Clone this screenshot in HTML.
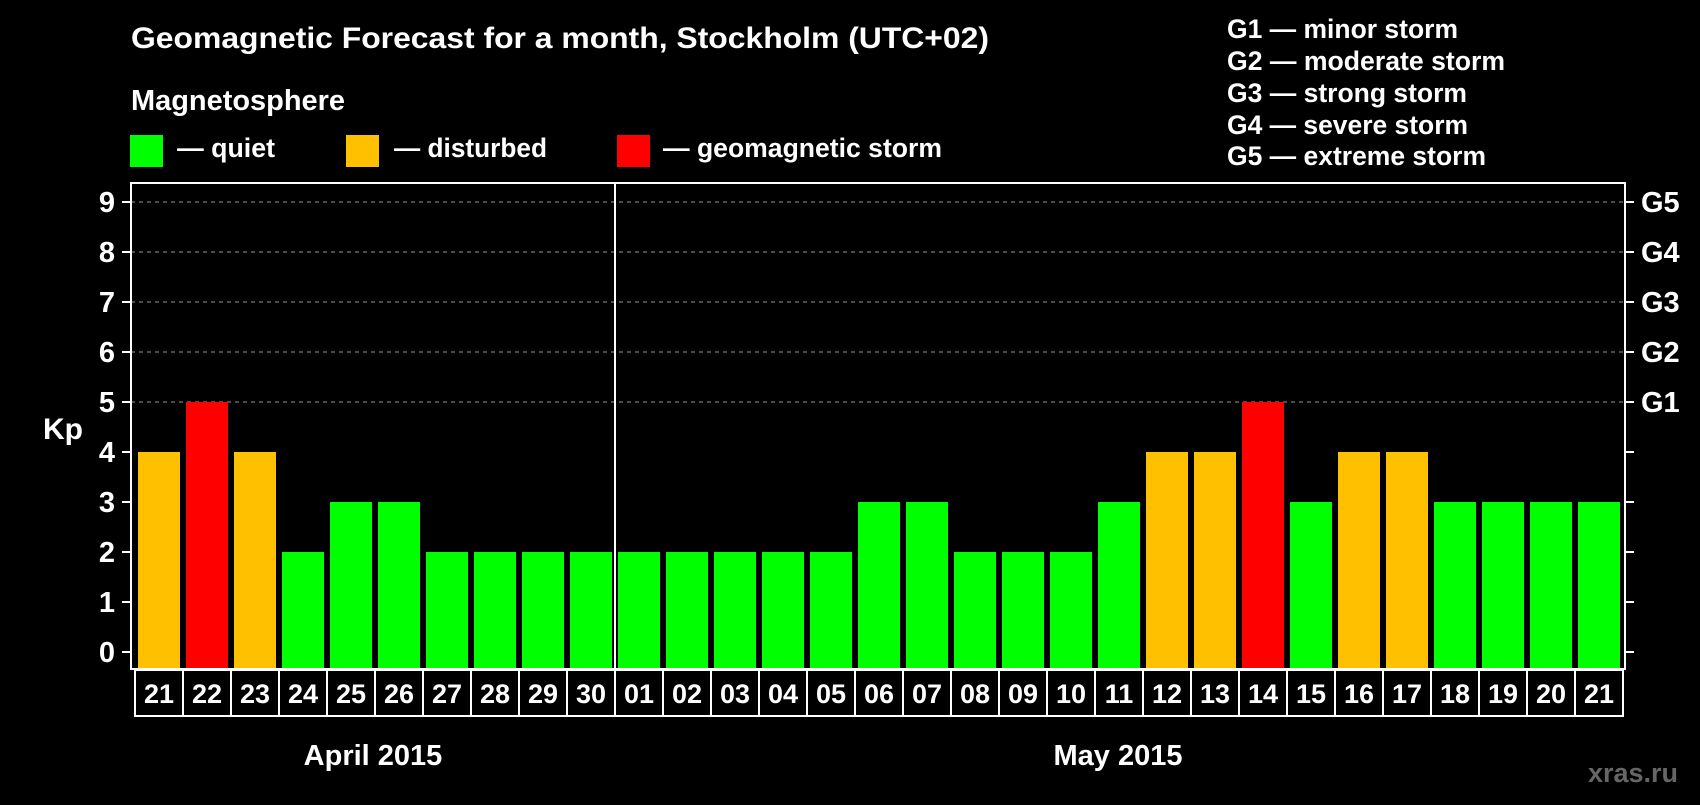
<!DOCTYPE html>
<html><head><meta charset="utf-8"><style>
body{margin:0;background:#000;width:1700px;height:800px;overflow:hidden}
svg text{font-family:"Liberation Sans",Arial,sans-serif;font-weight:bold;fill:#fff}
</style></head><body>
<svg id="chart" width="1700" height="800" xmlns="http://www.w3.org/2000/svg">
<text x="131" y="48" font-size="30" textLength="858" lengthAdjust="spacingAndGlyphs">Geomagnetic Forecast for a month, Stockholm (UTC+02)</text>
<text x="131" y="110" font-size="29" textLength="214" lengthAdjust="spacingAndGlyphs">Magnetosphere</text>
<rect x="130" y="135" width="33" height="32" fill="#00ff00"/>
<text x="177" y="157" font-size="27" textLength="98" lengthAdjust="spacingAndGlyphs">— quiet</text>
<rect x="346" y="135" width="33" height="32" fill="#ffc000"/>
<text x="394" y="157" font-size="27" textLength="153" lengthAdjust="spacingAndGlyphs">— disturbed</text>
<rect x="617" y="135" width="33" height="32" fill="#ff0000"/>
<text x="663" y="157" font-size="27" textLength="279" lengthAdjust="spacingAndGlyphs">— geomagnetic storm</text>
<g font-size="27">
<text x="1227" y="38" textLength="231" lengthAdjust="spacingAndGlyphs">G1 — minor storm</text>
<text x="1227" y="70" textLength="278" lengthAdjust="spacingAndGlyphs">G2 — moderate storm</text>
<text x="1227" y="102" textLength="240" lengthAdjust="spacingAndGlyphs">G3 — strong storm</text>
<text x="1227" y="134" textLength="241" lengthAdjust="spacingAndGlyphs">G4 — severe storm</text>
<text x="1227" y="165" textLength="259" lengthAdjust="spacingAndGlyphs">G5 — extreme storm</text>
</g>
<text x="63" y="439" font-size="30" text-anchor="middle">Kp</text>
<g id="grid"></g><g id="bars"></g><g id="axes"></g>
<rect x="131" y="183" width="1494" height="486" fill="none" stroke="#fff" stroke-width="2"/>
<line x1="615" y1="183" x2="615" y2="669" stroke="#fff" stroke-width="2"/>
<text x="373" y="765" font-size="29" text-anchor="middle">April 2015</text>
<text x="1118" y="765" font-size="29" text-anchor="middle">May 2015</text>
<text x="1678" y="782" font-size="27" text-anchor="end" style="fill:#666">xras.ru</text>
</svg>
<script>
const days=["21","22","23","24","25","26","27","28","29","30","01","02","03","04","05","06","07","08","09","10","11","12","13","14","15","16","17","18","19","20","21"];
const kp=[4,5,4,2,3,3,2,2,2,2,2,2,2,2,2,3,3,2,2,2,3,4,4,5,3,4,4,3,3,3,3];
const yTicks=[0,1,2,3,4,5,6,7,8,9];
const gLabels=["G1","G2","G3","G4","G5"];
const NS="http://www.w3.org/2000/svg";
const y=v=>652-v*50;
const x=i=>135+i*48;
function mk(p,t,a){const e=document.createElementNS(NS,t);for(const k in a)e.setAttribute(k,a[k]);p.appendChild(e);return e;}
const grid=document.getElementById('grid'),bars=document.getElementById('bars'),axes=document.getElementById('axes');
yTicks.forEach(v=>{
 if(v>=5){const g=mk(grid,'line',{x1:131,x2:1625,y1:y(v),y2:y(v),stroke:'#999','stroke-dasharray':'4,4','stroke-width':1});
 
 }
 const t1=mk(axes,'line',{x1:122,x2:131,y1:y(v),y2:y(v),stroke:'#fff','stroke-width':2});
 
 
 const t2=mk(axes,'line',{x1:1625,x2:1634,y1:y(v),y2:y(v),stroke:'#fff','stroke-width':2});
 
 
 const l=mk(axes,'text',{x:115,y:y(v)+10,'font-size':29,'text-anchor':'end'});l.textContent=v;
 
 
});
gLabels.forEach((g,i)=>{const l=mk(axes,'text',{x:1641,y:y(5+i)+10,'font-size':29});l.textContent=g;
 
 });
kp.forEach((v,i)=>{
 const c=v>=5?'#ff0000':v>=4?'#ffc000':'#00ff00';
 const b=mk(bars,'rect',{x:x(i)+3,y:y(v),width:42,height:668-y(v),fill:c});
 
 
 const cell=mk(axes,'rect',{x:x(i),y:670,width:48,height:46,fill:'none',stroke:'#fff','stroke-width':2});
 
 
 const t=mk(axes,'text',{x:x(i)+24,y:703,'font-size':27,'text-anchor':'middle'});t.textContent=days[i];
 
 
});
</script>
</body></html>
